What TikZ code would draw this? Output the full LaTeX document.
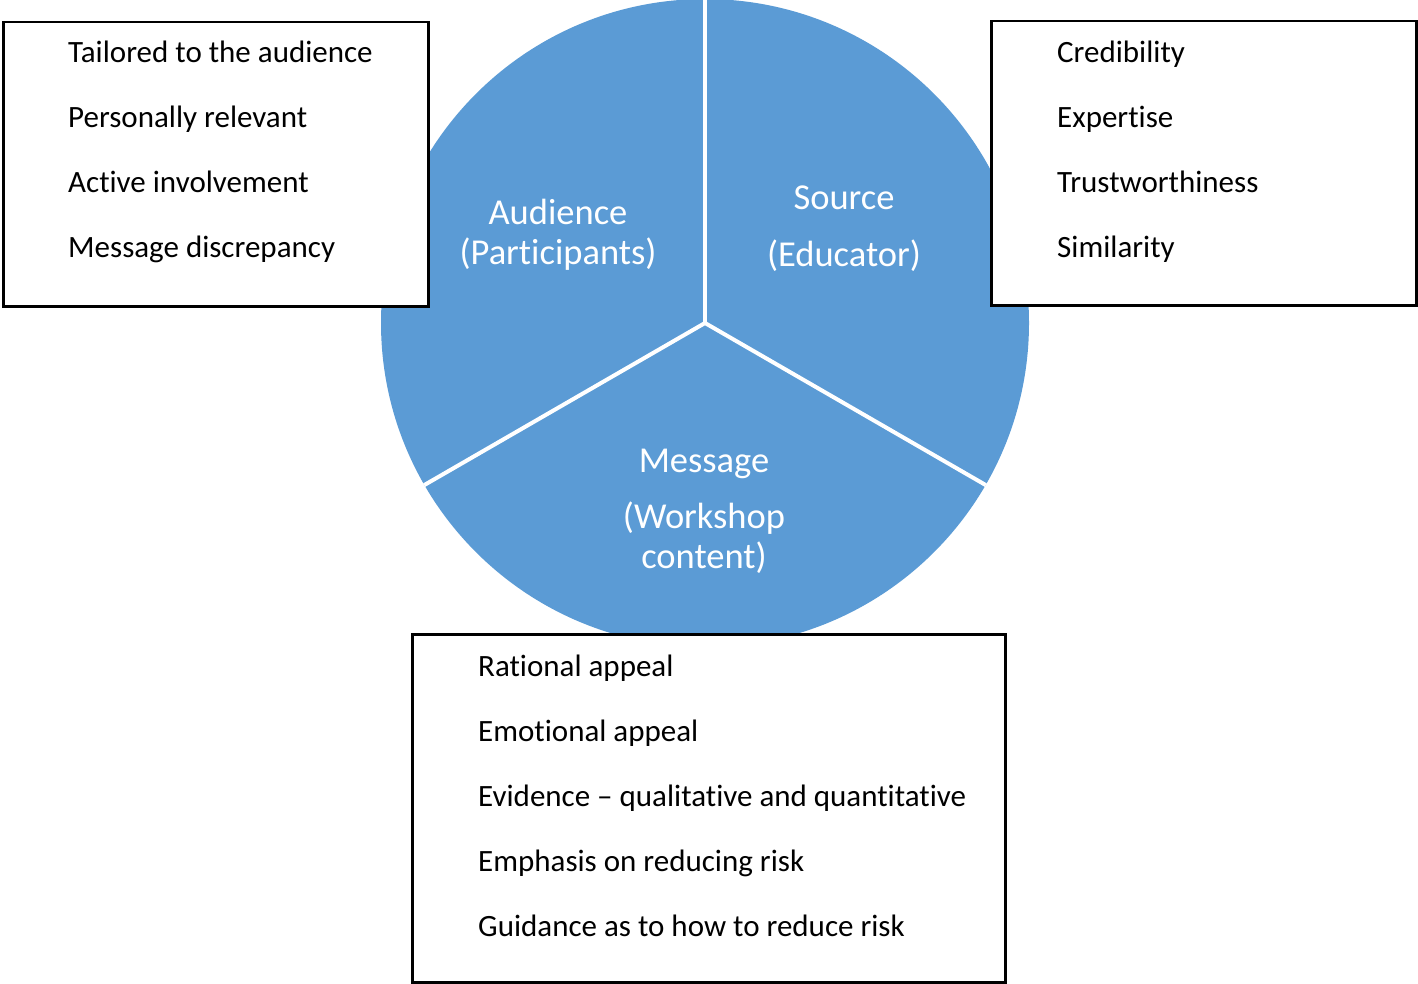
\documentclass[tikz,border=0pt]{standalone}
\usepackage{fontspec}
\setmainfont[Ligatures=NoCommon]{Carlito}
\definecolor{pieblue}{HTML}{5B9BD5}
\tikzset{
  divider/.style={draw=white, line width=4pt},
  listbox/.style={draw=black, fill=white, line width=2.5pt, inner sep=0pt, anchor=north west},
  item/.style={anchor=base west, inner sep=0pt, font=\fontsize{31}{37}\selectfont, text=black},
  lbl/.style={anchor=base, inner sep=0pt, font=\fontsize{36.5}{44}\selectfont, text=white}
}
\begin{document}
\begin{tikzpicture}[x=1pt,y=-1pt]
\useasboundingbox (0,0) rectangle (1418,984);
\node[circle, fill=pieblue, minimum size=648pt, inner sep=0pt] (pie) at (705,323) {};
\coordinate (c) at (705,323);
\draw[divider] (c) -- (pie.90);
\draw[divider] (c) -- (pie.210);
\draw[divider] (c) -- (pie.330);
\node[lbl] (aud1) at (558,225) {Audience};
\node[lbl] (aud2) at (558,265) {(Participants)};
\node[lbl] (src1) at (844,210) {Source};
\node[lbl] (src2) at (844,266) {(Educator)};
\node[lbl] (msg1) at (704,472) {Message};
\node[lbl] (msg2) at (704,528) {(Workshop};
\node[lbl] (msg3) at (704,568) {content)};
\node[listbox, minimum width=425pt, minimum height=284pt] (lbox) at (2,21) {};
\node[listbox, minimum width=425pt, minimum height=284pt] (rbox) at (990,20) {};
\node[listbox, minimum width=593pt, minimum height=348pt] (bbox) at (411,633) {};
\node[item] (l1) at (68,63) {Tailored to the audience};
\node[item] (l2) at (68,128) {Personally relevant};
\node[item] (l3) at (68,193) {Active involvement};
\node[item] (l4) at (68,258) {Message discrepancy};
\node[item] (r1) at (1057,63) {Credibility};
\node[item] (r2) at (1057,128) {Expertise};
\node[item] (r3) at (1057,193) {Trustworthiness};
\node[item] (r4) at (1057,258) {Similarity};
\node[item] (b1) at (478,676) {Rational appeal};
\node[item] (b2) at (478,741) {Emotional appeal};
\node[item] (b3) at (478,806) {Evidence – qualitative and quantitative};
\node[item] (b4) at (478,871) {Emphasis on reducing risk};
\node[item] (b5) at (478,936) {Guidance as to how to reduce risk};
\end{tikzpicture}
\end{document}
